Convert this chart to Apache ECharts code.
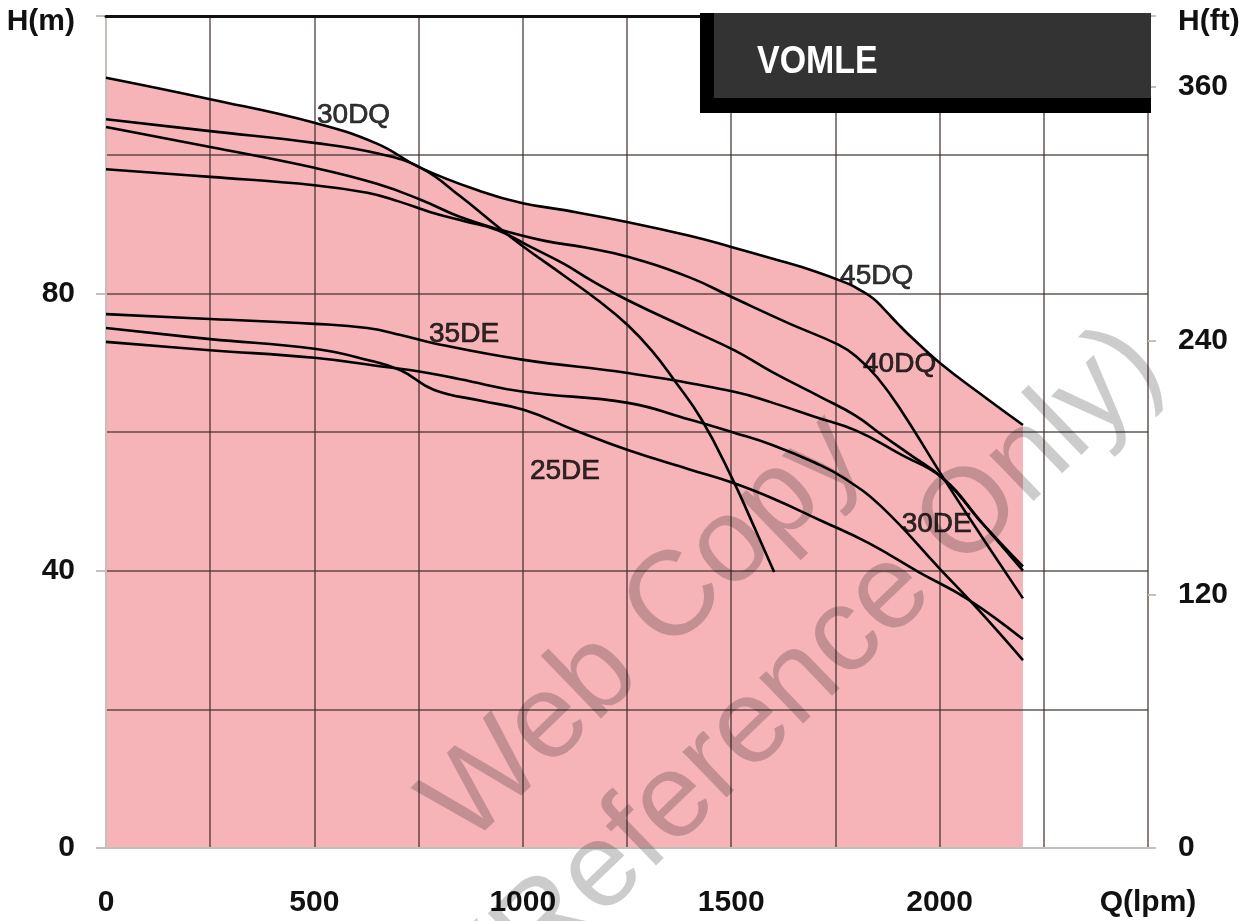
<!DOCTYPE html>
<html>
<head>
<meta charset="utf-8">
<script src="https://cdn.jsdelivr.net/npm/echarts@6/dist/echarts.min.js"></script>
<style>html,body{margin:0;padding:0;background:#fff}#c{width:1252px;height:921px}</style>
</head>
<body>
<div id="c"></div>
<script>
// ---- data (Q in lpm, H in m) ----
const q45DQ = [0,250,500,650,755,900,1000,1100,1250,1400,1500,1600,1700,1780,1800,1840,1870,1900,1930,2000,2100,2200];
const h45DQ = [111.1,108.0,104.6,101.6,98.1,94.7,93.0,92.0,90.3,88.3,86.7,85.0,83.2,81.4,80.8,79.3,77.5,75.6,73.8,70.0,65.4,61.0];

const q30DQ = [0,250,500,650,755,850,940,1000,1100,1180,1252,1310,1363,1430,1500,1550,1603];
const h30DQ = [105.1,103.4,101.7,100.2,98.1,94.0,89.6,86.8,82.5,79.0,75.4,71.7,67.5,61.7,53.6,47.0,39.8];

const q40DQ = [0,250,500,650,755,850,950,1050,1150,1250,1400,1500,1637,1757,1800,1850,1909,2012,2100,2200];
const h40DQ = [104.0,101.1,98.1,95.8,93.5,91.0,89.1,87.6,86.6,85.3,82.3,79.5,75.7,72.6,70.9,67.9,63.0,53.1,45.0,36.0];

const qOther = [0,250,500,627,700,779,860,940,1019,1100,1163,1252,1400,1507,1600,1716,1800,1861,1930,2012,2100,2200];
const hOther = [97.9,96.8,95.6,94.5,93.3,91.7,90.4,89.1,86.7,84.2,81.9,79.0,74.8,71.8,68.6,65.0,62.3,59.6,56.7,53.1,47.0,40.0];

const q35DE = [0,250,500,627,707,786,1002,1252,1507,1600,1700,1800,1900,2012,2100,2200];
const h35DE = [77.0,76.3,75.6,75.0,74.0,72.8,70.4,68.5,65.8,64.2,62.2,60.2,57.0,53.1,47.0,40.6];

const q25DE = [0,250,500,627,707,786,900,1002,1123,1252,1400,1507,1600,1716,1829,1950,2070,2200];
const h25DE = [75.0,73.4,72.0,70.4,68.9,66.1,64.5,63.2,60.3,57.4,54.6,52.6,50.4,47.2,44.0,39.8,35.8,30.1];

const q30DE = [0,250,500,666,755,850,1002,1252,1400,1507,1600,1700,1772,1861,2000,2094,2200];
const h30DE = [73.0,71.8,70.7,69.4,68.7,67.6,65.8,64.2,61.8,59.9,58.1,55.6,53.3,49.2,40.3,34.3,27.1];

// curve labels
const labelNames = ['30DQ','45DQ','40DQ','35DE','25DE','30DE'];
const labelQ = [594,1849,1904,859,1101,1993];
const labelH = [105.7,82.5,69.7,74.1,54.4,46.7];

// axes
const xMin = 0, xMax = 2500, xStep = 250, xLabelStep = 500, xLastNum = 2000;
const yMin = 0, yMax = 120, yGridStep = 20, yLabelStep = 40;
const ftPerM = 1 / 0.3048;
const ftStep = 120;
const xName = 'Q(lpm)', yName = 'H(m)', y2Name = 'H(ft)';
const title = 'VOMLE';
const wmLine1 = 'Web Copy', wmLine2 = '(Reference Only)';

// ---- chart ----
const zip = (xs, ys) => xs.map((x, i) => [x, ys[i]]);
const FONT = "'Liberation Sans', Arial, sans-serif";
const gridColor = 'rgba(60,45,40,0.6)';
const axisGrey = '#c4c0b8';
const ftMax = yMax * ftPerM;
const SMOOTH = 0.45;

const curves = [
  ['45DQ', q45DQ, h45DQ], ['30DQ', q30DQ, h30DQ], ['40DQ', q40DQ, h40DQ],
  ['other', qOther, hOther], ['35DE', q35DE, h35DE], ['25DE', q25DE, h25DE], ['30DE', q30DE, h30DE]
];

const labelStyle = {fontSize: 30, fontWeight: 'bold', color: '#111', fontFamily: FONT};

const series = [{
  type: 'line', name: 'fill', data: zip(q45DQ, h45DQ), smooth: SMOOTH, showSymbol: false, silent: true,
  lineStyle: {width: 0}, areaStyle: {color: '#F6B3B8', opacity: 1}, z: 1
}];
curves.forEach(([n, xs, ys]) => series.push({
  type: 'line', name: n, data: zip(xs, ys), smooth: SMOOTH, showSymbol: false, silent: true,
  lineStyle: {color: '#000', width: 2.6}, z: 5
}));
series.push({
  type: 'scatter', name: 'labels', symbolSize: 0, silent: true, z: 6,
  data: labelNames.map((n, i) => ({name: n, value: [labelQ[i], labelH[i]]})),
  label: {show: true, position: 'inside', formatter: '{b}', color: '#000', fontSize: 28, fontFamily: FONT,
          textBorderColor: '#000', textBorderWidth: 0.7}
});

const chart = echarts.init(document.getElementById('c'), null, {renderer: 'canvas'});
chart.setOption({
  animation: false,
  backgroundColor: '#fff',
  grid: {left: 106, right: 104, top: 16, bottom: 73, containLabel: false},
  xAxis: [{
    type: 'value', min: xMin, max: xMax, interval: xStep, position: 'bottom', z: 3,
    axisLine: {show: true, onZero: false, lineStyle: {color: axisGrey, width: 2}},
    axisTick: {show: false},
    axisLabel: Object.assign({
      margin: 40,
      formatter: v => v === xMax ? xName : (v % xLabelStep === 0 && v <= xLastNum ? String(v) : '')
    }, labelStyle),
    splitLine: {show: true, showMinLine: false, lineStyle: {color: gridColor, width: 2}}
  }, {
    type: 'value', min: xMin, max: xMax, position: 'top', z: 4,
    axisLine: {show: true, onZero: false, lineStyle: {color: '#111', width: 3}},
    axisTick: {show: false}, axisLabel: {show: false}, splitLine: {show: false}
  }],
  yAxis: [{
    type: 'value', min: yMin, max: yMax, interval: yLabelStep, position: 'left', z: 3,
    axisLine: {show: true, onZero: false, lineStyle: {color: axisGrey, width: 2}},
    axisTick: {show: true, length: 10, lineStyle: {color: axisGrey, width: 2}},
    axisLabel: Object.assign({
      margin: 31,
      formatter: v => v === yMax ? '{u|' + yName + '}' : String(v),
      rich: {u: Object.assign({padding: [12, 0, 0, 0]}, labelStyle)}
    }, labelStyle),
    splitLine: {show: false}
  }, {
    type: 'value', min: 0, max: ftMax, interval: ftStep, position: 'right', z: 3,
    axisLine: {show: false, onZero: false},
    axisTick: {show: true, length: 8, lineStyle: {color: axisGrey, width: 2}},
    axisLabel: Object.assign({
      margin: 30,
      formatter: v => Math.abs(v - ftMax) < 0.01 ? '{u|' + y2Name + '}' : (v % ftStep === 0 ? String(v) : ''),
      rich: {u: Object.assign({padding: [12, 0, 0, 0]}, labelStyle)}
    }, labelStyle),
    splitLine: {show: false}
  }, {
    type: 'value', min: yMin, max: yMax, interval: yGridStep, position: 'left', z: 3,
    axisLine: {show: false, onZero: false}, axisTick: {show: false}, axisLabel: {show: false},
    splitLine: {show: true, showMinLine: false, lineStyle: {color: gridColor, width: 2}}
  }],
  series: series,
  graphic: [
    {type: 'rect', z: 100, shape: {x: 700, y: 13, width: 451, height: 100}, style: {fill: '#000'}},
    {type: 'rect', z: 101, shape: {x: 714, y: 13, width: 437, height: 85}, style: {fill: '#333333'}},
    {type: 'text', z: 102, x: 757, y: 62, scaleX: 0.87,
     style: {text: title, fill: '#fff', font: 'bold 39px ' + FONT, textAlign: 'left', textVerticalAlign: 'middle', align: 'left', verticalAlign: 'middle'}},
    {type: 'text', z: 110, x: 645, y: 630, rotation: 44 * Math.PI / 180,
     style: {text: wmLine1, fill: 'rgba(0,0,0,0.2)', font: '120px ' + FONT, textAlign: 'center', textVerticalAlign: 'middle', align: 'center', verticalAlign: 'middle'}},
    {type: 'text', z: 110, x: 815, y: 666, rotation: 44 * Math.PI / 180,
     style: {text: wmLine2, fill: 'rgba(0,0,0,0.2)', font: '120px ' + FONT, textAlign: 'center', textVerticalAlign: 'middle', align: 'center', verticalAlign: 'middle'}}
  ]
});
</script>
</body>
</html>
